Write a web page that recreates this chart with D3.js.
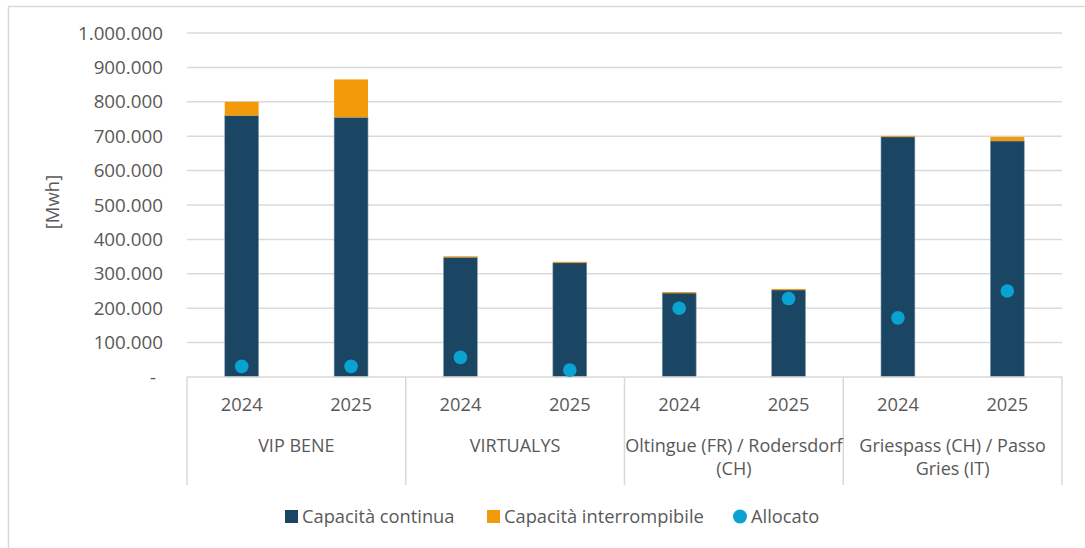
<!DOCTYPE html>
<html>
<head>
<meta charset="utf-8">
<script src="https://cdn.jsdelivr.net/npm/d3@7"></script>
<style>
  body { margin: 0; background: #fff; }
  svg text { font-family: "Open Sans", "Liberation Sans", sans-serif; fill: #595959; }
</style>
</head>
<body>
<svg id="chart" width="1085" height="548"></svg>
<script>
// data
const groups = ["VIP BENE", "VIRTUALYS", "Oltingue (FR) / Rodersdorf (CH)", "Griespass (CH) / Passo Gries (IT)"];
const groupLines = [["VIP BENE"], ["VIRTUALYS"], ["Oltingue (FR) / Rodersdorf", "(CH)"], ["Griespass (CH) / Passo", "Gries (IT)"]];
const years = ["2024", "2025"];
const continua      = [760000, 755000, 348000, 332000, 244000, 253000, 698000, 686000];
const interrompibile = [40000, 110000, 3000, 3000, 3000, 3000, 3000, 12000];
const allocato      = [31000, 31000, 57000, 20000, 200000, 228000, 172000, 250000];
const yTicks = [0, 100000, 200000, 300000, 400000, 500000, 600000, 700000, 800000, 900000, 1000000];
const seriesNames = ["Capacità continua", "Capacità interrompibile", "Allocato"];

const colDark = "#1a4664", colOrange = "#f39a0b", colDot = "#0aa3d1";

let svg = d3.select("#chart");

// chart frame (only left and top edges are visible)
svg.append("path")
    .attr("d", "M8.5,548V6.5H1085")
    .attr("fill", "none").attr("stroke", "#d9d9d9").attr("stroke-width", 1.5);

let pLeft = 187, pRight = 1062, pTop = 33, pBottom = 377;

let y = d3.scaleLinear().domain([0, 1000000]).range([pBottom, pTop]);
let xg = d3.scaleBand().domain(groups).range([pLeft, pRight]);
let xy = d3.scaleBand().domain(years).range([0, xg.bandwidth()]).paddingInner(0.69).paddingOuter(0.345);

let fmt = function(v) {
    if (v === 0) return "-";
    return d3.format(",")(v).replace(/,/g, ".");
};

// gridlines
svg.append("g").selectAll("line")
    .data(yTicks.filter(d => d > 0))
    .enter().append("line")
        .attr("x1", pLeft).attr("x2", pRight)
        .attr("y1", d => y(d)).attr("y2", d => y(d))
        .attr("stroke", "#d9d9d9").attr("stroke-width", 1.5);

// y tick labels
svg.append("g").selectAll("text")
    .data(yTicks)
    .enter().append("text")
        .attr("x", d => d === 0 ? 156 : 163)
        .attr("y", d => y(d))
        .attr("dy", "0.35em")
        .attr("text-anchor", "end")
        .style("font-size", "18.8px")
        .text(fmt);

svg.append("text")
    .attr("transform", "translate(59,202) rotate(-90)")
    .attr("text-anchor", "middle")
    .style("font-size", "18.5px")
    .text("[Mwh]");

// flatten rows
let rows = [];
groups.forEach(function(g, gi) {
    years.forEach(function(yr, yi) {
        let i = gi * 2 + yi;
        rows.push({ g: g, yr: yr, c: continua[i], o: interrompibile[i], a: allocato[i],
                    x: xg(g) + xy(yr) });
    });
});

let bars = svg.append("g");
bars.selectAll("rect.c")
    .data(rows)
    .enter().append("rect")
        .attr("class", "c")
        .attr("x", d => d.x).attr("width", xy.bandwidth())
        .attr("y", d => y(d.c)).attr("height", d => y(0) - y(d.c))
        .attr("fill", colDark).attr("stroke", "#8aa0b4").attr("stroke-width", 0.6);
bars.selectAll("rect.o")
    .data(rows)
    .enter().append("rect")
        .attr("class", "o")
        .attr("x", d => d.x).attr("width", xy.bandwidth())
        .attr("y", d => y(d.c + d.o)).attr("height", d => y(d.c) - y(d.c + d.o))
        .attr("fill", colOrange);

// x axis line and separators
svg.append("line")
    .attr("x1", pLeft).attr("x2", pRight).attr("y1", pBottom).attr("y2", pBottom)
    .attr("stroke", "#d9d9d9").attr("stroke-width", 1.5);
svg.append("g").selectAll("line")
    .data(groups.map(g => xg(g)).concat([pRight]))
    .enter().append("line")
        .attr("x1", d => d).attr("x2", d => d)
        .attr("y1", pBottom).attr("y2", 485)
        .attr("stroke", "#d9d9d9").attr("stroke-width", 1.5);

svg.append("g").selectAll("text")
    .data(rows)
    .enter().append("text")
        .attr("x", d => d.x + xy.bandwidth() / 2)
        .attr("y", 411)
        .attr("text-anchor", "middle")
        .style("font-size", "18.3px")
        .text(d => d.yr);

groups.forEach(function(g, gi) {
    let t = svg.append("text")
        .attr("x", xg(g) + xg.bandwidth() / 2)
        .attr("y", 452)
        .attr("text-anchor", "middle")
        .style("font-size", "18px");
    groupLines[gi].forEach(function(line, li) {
        t.append("tspan")
            .attr("x", xg(g) + xg.bandwidth() / 2)
            .attr("dy", li === 0 ? 0 : 23)
            .text(line);
    });
});

// allocato dots
svg.append("g").selectAll("circle")
    .data(rows)
    .enter().append("circle")
        .attr("cx", d => d.x + xy.bandwidth() / 2)
        .attr("cy", d => y(d.a))
        .attr("r", 6.8)
        .attr("fill", colDot);

// legend
let leg = svg.append("g");
let legX = [285, 487, 733];
leg.append("rect").attr("x", legX[0]).attr("y", 510).attr("width", 13).attr("height", 13).attr("fill", colDark);
leg.append("rect").attr("x", legX[1]).attr("y", 510).attr("width", 13).attr("height", 13).attr("fill", colOrange);
leg.append("circle").attr("cx", legX[2] + 7).attr("cy", 516.5).attr("r", 7).attr("fill", colDot);
seriesNames.forEach(function(s, i) {
    leg.append("text")
        .attr("x", legX[i] + (i === 2 ? 18 : 17))
        .attr("y", 517)
        .attr("dy", "0.35em")
        .style("font-size", "18.3px")
        .text(s);
});
</script>
</body>
</html>
